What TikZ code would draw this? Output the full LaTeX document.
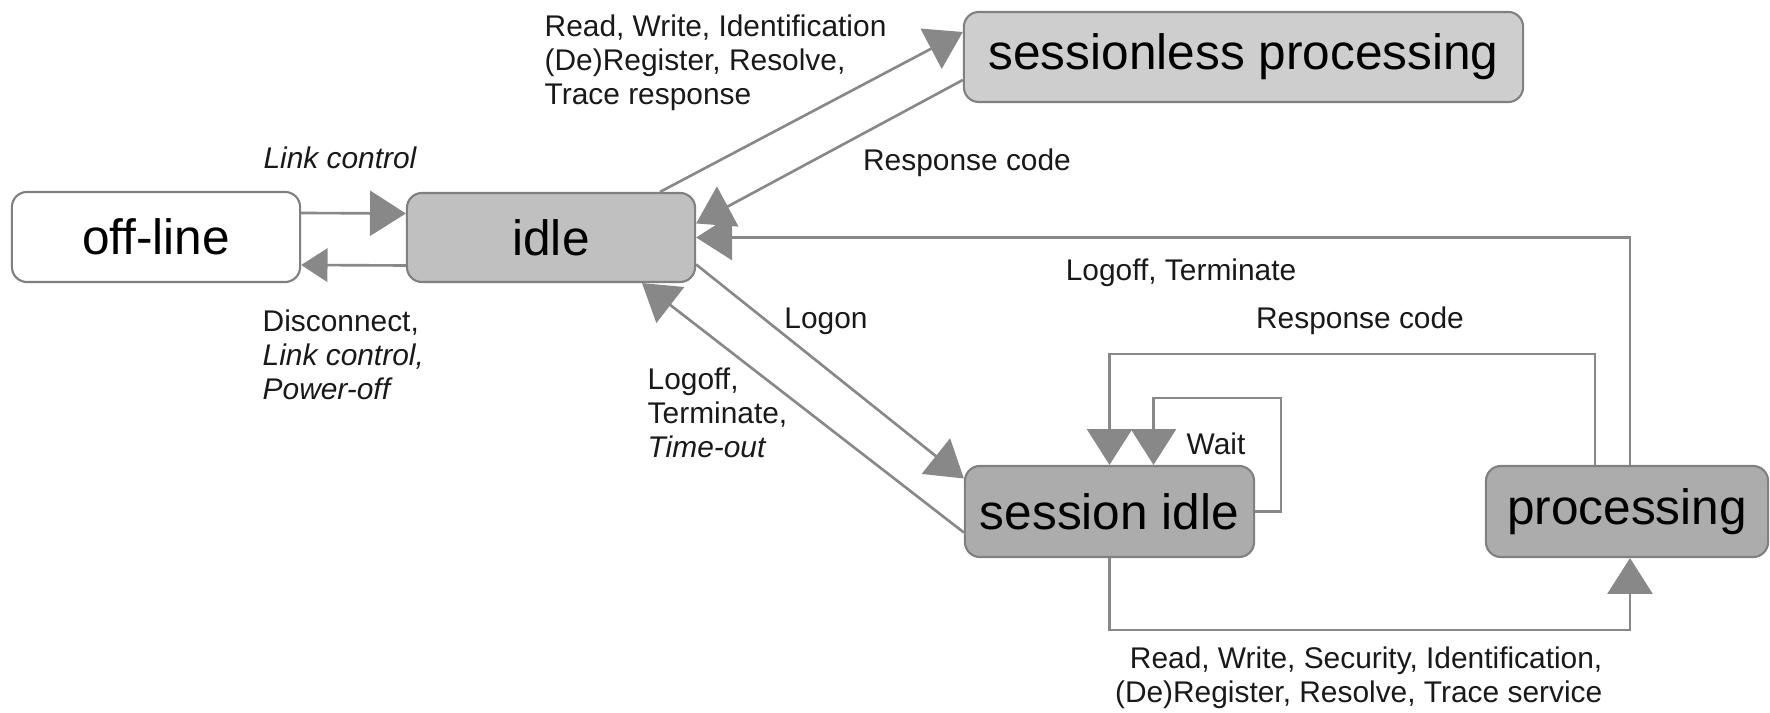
\documentclass[tikz,border=0pt]{standalone}
\usepackage{fontspec}
\setmainfont{Liberation Sans}
\usetikzlibrary{arrows.meta,calc}

\definecolor{edgegray}{RGB}{136,136,136}
\definecolor{boxline}{RGB}{128,128,128}
\definecolor{fillidle}{RGB}{192,192,192}
\definecolor{fillsless}{RGB}{206,206,206}
\definecolor{filldark}{RGB}{172,172,172}
\definecolor{textcol}{RGB}{25,25,25}

\tikzset{
  state/.style={draw=boxline, line width=0.6pt, rounded corners=0.15cm,
    inner sep=0pt, text=black, font=\fontsize{14.1pt}{16pt}\selectfont},
  conn/.style={draw=edgegray, line width=0.75pt,
    -{Triangle[length=10.2pt,width=12.8pt]}},
  smalltip/.style={draw=edgegray, line width=0.75pt,
    -{Triangle[length=7.5pt,width=9.5pt]}},
  lbl/.style={inner sep=0pt, text=textcol,
    font=\fontsize{8.5pt}{9.67pt}\selectfont},
}

\begin{document}
\begin{tikzpicture}[x=0.01cm, y=-0.01cm]
\useasboundingbox (0,0) rectangle (1770,713);

% states
\node[state, fill=white, minimum width=2.88cm, minimum height=0.90cm]
  (offline) at (156,237) {off-line};
\node[state, fill=fillidle, minimum width=2.88cm, minimum height=0.89cm]
  (idle) at (551,237.5) {idle};
\node[state, fill=fillsless, minimum width=5.59cm, minimum height=0.90cm]
  (sless) at (1243.5,57) {sessionless processing};
\node[state, fill=filldark, minimum width=2.89cm, minimum height=0.91cm]
  (sidle) at (1109.5,511.5) {session idle};
\node[state, fill=filldark, minimum width=2.82cm, minimum height=0.91cm]
  (proc) at (1627,511.5) {processing};

% transitions between off-line and idle
\draw[conn] ($(offline.east)+(0,-24)$) -- ($(idle.west)+(0,-24)$);
\draw[smalltip] ($(idle.west)+(0,28)$) -- ($(offline.east)+(0,28)$);

% sessionless requests
\draw[conn] ($(idle.north)+(109,0)$) -- ($(sless.west)+(0,-25)$);
\draw[conn] ($(sless.west)+(0,23)$) -- ($(idle.east)+(0,-14)$);

% logon / logoff
\draw[conn] ($(idle.east)+(0,27)$) -- ($(sidle.west)+(0,-33)$);
\draw[conn] ($(sidle.west)+(0,21)$) -- ($(idle.south)+(91,0)$);

% processing back to idle
\draw[conn] ($(proc.north)+(3,0)$) |- (idle.east);

% response code back to session idle
\draw[conn] ($(proc.north)+(-32,0)$) -- ++(0,-111) -| (sidle.north);

% wait loop
\draw[conn] (sidle.east) -- ++(26,0) -- ++(0,-113.5) -| ($(sidle.north)+(44,0)$);

% session requests
\draw[conn] (sidle.south) -- ++(0,72) -| ($(proc.south)+(3,0)$);

% labels
\node[lbl, font=\fontsize{8.5pt}{9.67pt}\selectfont\itshape] (lLink) at (340,158) {Link control};
\node[lbl, anchor=west, align=left] (lDisc) at (262,355)
  {Disconnect,\\\itshape Link control,\\\itshape Power-off};
\node[lbl, anchor=west, align=left] (lRead) at (544,63)
  {Read, Write, Identification\\(De)Register, Resolve,\\Trace response};
\node[lbl] (lResp1) at (967,163) {Response code};
\node[lbl] (lLogTerm) at (1181,273) {Logoff, Terminate};
\node[lbl] (lLogon) at (826,321) {Logon};
\node[lbl, anchor=west, align=left] (lLogoff) at (647,413)
  {Logoff,\\Terminate,\\\itshape Time-out};
\node[lbl] (lResp2) at (1360,321) {Response code};
\node[lbl, anchor=west] (lWait) at (1186,444) {Wait};
\node[lbl, anchor=east, align=right] (lSess) at (1603,678)
  {Read, Write, Security, Identification,\\(De)Register, Resolve, Trace service};
\end{tikzpicture}
\end{document}
